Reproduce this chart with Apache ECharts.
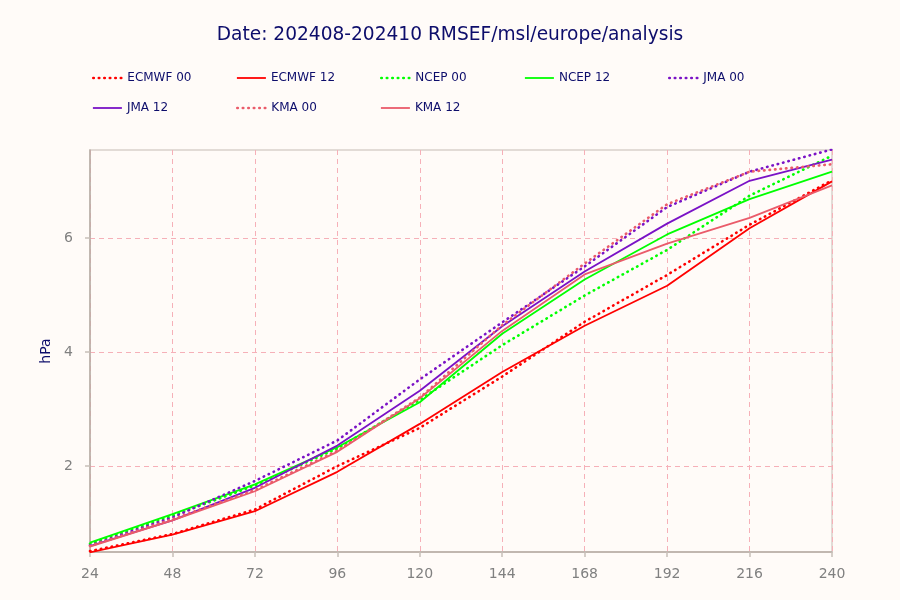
<!DOCTYPE html>
<html><head><meta charset="utf-8">
<script src="https://cdn.jsdelivr.net/npm/echarts@6/dist/echarts.min.js"></script>
<style>html,body{margin:0;padding:0;background:#fffbf8;}#c{width:900px;height:600px;}</style>
</head><body><div id="c"></div>
<script>
const steps = [24, 48, 72, 96, 120, 144, 168, 192, 216, 240];
const xTicks = [24, 48, 72, 96, 120, 144, 168, 192, 216, 240];
const yTicks = [2, 4, 6];
const ecmwf00 = [0.51, 0.81, 1.24, 2.00, 2.67, 3.57, 4.53, 5.35, 6.23, 7.01];
const ecmwf12 = [0.49, 0.80, 1.21, 1.90, 2.74, 3.65, 4.46, 5.16, 6.17, 6.99];
const ncep00  = [0.64, 1.13, 1.66, 2.31, 3.16, 4.12, 4.99, 5.79, 6.74, 7.44];
const ncep12  = [0.66, 1.16, 1.68, 2.33, 3.12, 4.32, 5.27, 6.06, 6.68, 7.16];
const jma00   = [0.61, 1.10, 1.74, 2.45, 3.52, 4.52, 5.50, 6.54, 7.16, 7.55];
const jma12   = [0.60, 1.05, 1.62, 2.36, 3.32, 4.45, 5.41, 6.25, 7.00, 7.37];
const kma00   = [0.60, 1.07, 1.58, 2.27, 3.20, 4.47, 5.55, 6.59, 7.16, 7.29];
const kma12   = [0.59, 1.05, 1.56, 2.25, 3.19, 4.37, 5.36, 5.90, 6.35, 6.92];

const names = ['ECMWF 00','ECMWF 12','NCEP 00','NCEP 12','JMA 00','JMA 12','KMA 00','KMA 12'];
const values = [ecmwf00, ecmwf12, ncep00, ncep12, jma00, jma12, kma00, kma12];
const colors = ['#ff0000','#ff0000','#00ff00','#00ff00','#7a12c6','#7a12c6','#ea5b6a','#ea5b6a'];
const dotted = [true,false,true,false,true,false,true,false];

const legendPos = [[92,79],[236,79],[380,79],[524,79],[668,79],[92,109],[236,109],[380,109]];
const navy = '#0d0d6b';

function ls(i){ return {color:colors[i], width: dotted[i]?2.6:1.8, type: dotted[i]?[0.5,5]:'solid', cap: dotted[i]?'round':'butt'}; }

const series = names.map((n,i)=>({
  name:n, type:'line', symbol:'none', smooth:false,
  data: steps.map((s,j)=>[s, values[i][j]]),
  lineStyle: ls(i),
  itemStyle:{color:colors[i]},
  emphasis:{disabled:true}
}));

const legends = names.map((n,i)=>({
  left: legendPos[i][0], top: legendPos[i][1]-7, data:[n], itemWidth:29, itemHeight:14, itemGap:4,
  textStyle:{color:navy, fontSize:12, fontFamily:'DejaVu Sans'},
  itemStyle:{opacity:0}, lineStyle: ls(i),
  selectedMode:false, padding:0
}));

const chart = echarts.init(document.getElementById('c'), null, {renderer:'canvas'});
chart.setOption({
  backgroundColor:'#fffbf8',
  animation:false,
  title:{text:'Date: 202408-202410 RMSEF/msl/europe/analysis', left:'center', top:21,
    textStyle:{color:navy, fontSize:18.6, fontWeight:'normal', fontFamily:'DejaVu Sans'}},
  legend: legends,
  grid:{left:90, right:68, top:150, bottom:48, show:true, borderColor:'#d9d1ca', borderWidth:1.5, backgroundColor:'transparent'},
  xAxis:{type:'value', min:24, max:240, interval:24,
    axisLine:{show:true, onZero:false, lineStyle:{color:'#b6aca4', width:1.5}},
    axisTick:{show:true, length:5, lineStyle:{color:'#c8c0b8', width:1.5}},
    axisLabel:{color:'#808080', fontSize:14, margin:15, fontFamily:'DejaVu Sans'},
    splitLine:{show:true, lineStyle:{color:'#f6b0b8', type:[5,4], width:1}}
  },
  yAxis:{type:'value', min:0.495, max:7.54,
    name:'hPa', nameLocation:'middle', nameGap:36, nameRotate:90,
    nameTextStyle:{color:navy, fontSize:14, fontFamily:'DejaVu Sans'},
    axisLine:{show:true, lineStyle:{color:'#b6aca4', width:1.5}},
    axisTick:{show:true, length:5, customValues:yTicks, lineStyle:{color:'#c8c0b8', width:1.5}},
    axisLabel:{color:'#808080', fontSize:14, margin:17, customValues:yTicks, fontFamily:'DejaVu Sans'},
    splitLine:{show:true, lineStyle:{color:'#f6b0b8', type:[5,4], width:1}}
  },
  series: series
});
</script></body></html>
